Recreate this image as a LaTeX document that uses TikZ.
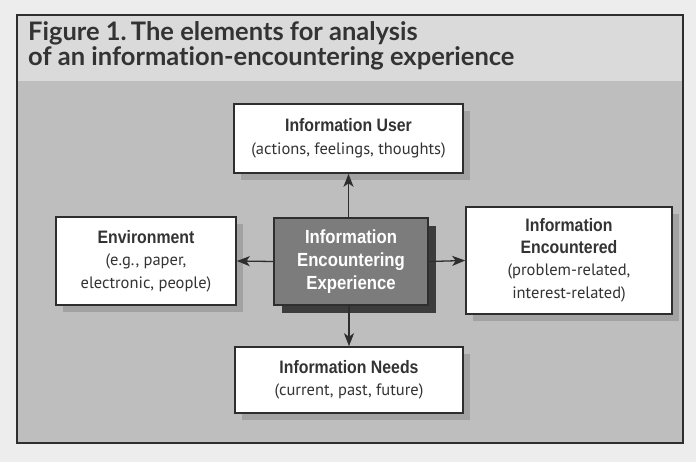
\documentclass[tikz,border=0pt]{standalone}
\usepackage{fontspec}
\setmainfont{Liberation Sans}
\newfontfamily\condfont[FakeStretch=0.88]{Liberation Sans}
\newfontfamily\notefont{PT Sans}
\newfontfamily\titlefont[RawFeature=-liga]{Lato}
\usetikzlibrary{arrows.meta,shadows}

\definecolor{paper}{HTML}{EDEDED}
\definecolor{bandgrey}{HTML}{DADADA}
\definecolor{panelgrey}{HTML}{BEBEBE}
\definecolor{inkline}{HTML}{2E2E2E}
\definecolor{softshadow}{HTML}{A2A2A2}
\definecolor{coregrey}{HTML}{7C7C7C}
\definecolor{coreshadow}{HTML}{3C3C3C}

\tikzset{
  elembox/.style={draw=inkline, line width=1.6pt, fill=white, align=center,
    inner sep=0pt, text=black!80,
    font=\notefont\fontsize{16.5}{22.5}\selectfont,
    general shadow={fill=softshadow, shadow xshift=7pt, shadow yshift=-7pt}},
  corebox/.style={draw=inkline, line width=1.6pt, fill=coregrey, align=center,
    inner sep=0pt, text=white,
    font=\condfont\bfseries\fontsize{19}{23}\selectfont,
    general shadow={fill=coreshadow, shadow xshift=8pt, shadow yshift=-8pt}},
  link/.style={draw=inkline, line width=1.3pt,
    -{Stealth[length=13pt,width=10pt,inset=3.5pt]}},
  heading/.style={font=\titlefont\bfseries\fontsize{25.5}{25}\selectfont,
    text=black!80, anchor=north west, align=left, inner sep=0pt}
}

\newcommand{\hd}[1]{{\condfont\bfseries\fontsize{18}{22.5}\selectfont #1}}

\begin{document}
\begin{tikzpicture}[x=1pt,y=-1pt]
  % page and frame
  \fill[paper] (0,0) rectangle (696,462);
  \useasboundingbox (0,0) rectangle (696,462);
  \fill[panelgrey] (17,15) rectangle (683,443);
  \fill[bandgrey] (17,15) rectangle (683,81);
  \draw[inkline, line width=1.4pt] (17,15) rectangle (683,443);

  % heading
  \node[heading] (title) at (28,21) {Figure 1.\,The elements for analysis\\of an information-encountering experience};

  % elements
  \node[elembox, minimum width=229pt, minimum height=69pt] (user) at (348.5,138.5)
    {\hd{Information User}\\(actions, feelings, thoughts)};
  \node[elembox, minimum width=180pt, minimum height=88pt] (env) at (146,261)
    {\hd{Environment}\\(e.g., paper,\\electronic, people)};
  \node[elembox, minimum width=206pt, minimum height=107pt] (enc) at (569,260.5)
    {\hd{Information}\\[-1pt]\hd{Encountered}\\(problem-related,\\interest-related)};
  \node[elembox, minimum width=228pt, minimum height=66pt] (needs) at (349,380)
    {\hd{Information Needs}\\(current, past, future)};
  \node[corebox, minimum width=154pt, minimum height=87pt] (core) at (351,261.5)
    {Information\\Encountering\\Experience};

  % links from the experience to each element
  \draw[link] (core.north -| user.south) -- (user.south);
  \draw[link] (core.west) -- (env.east);
  \draw[link] (core.east) -- (enc.west);
  \draw[link] (core.south -| needs.north) -- (needs.north);
\end{tikzpicture}
\end{document}
